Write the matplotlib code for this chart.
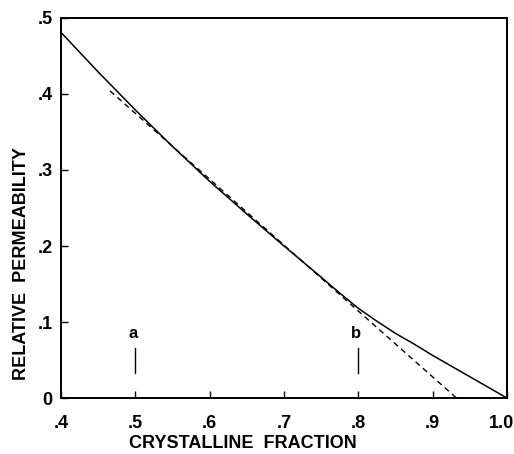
import numpy as np
import matplotlib
matplotlib.use("Agg")
import matplotlib.pyplot as plt
import matplotlib.transforms as mtransforms

# solid curve
frac = [0.40, 0.45, 0.50, 0.55, 0.60, 0.65, 0.70, 0.75, 0.775, 0.80, 0.825, 0.85, 0.875, 0.90, 0.95, 1.00]
perm = [0.481, 0.429, 0.379, 0.331, 0.285, 0.242, 0.200, 0.159, 0.138, 0.118, 0.101, 0.085, 0.071, 0.056, 0.028, 0.0]

# dashed straight line
dash_x = [0.466, 0.932]
dash_y = [0.404, 0.0]

# marked points a and b
mark_x = [0.5, 0.8]
mark_lbl = ['a', 'b']

xticks = [0.4, 0.5, 0.6, 0.7, 0.8, 0.9, 1.0]
xticklabels = ['.4', '.5', '.6', '.7', '.8', '.9', '1.0']
yticks = [0.0, 0.1, 0.2, 0.3, 0.4, 0.5]
yticklabels = ['0', '.1', '.2', '.3', '.4', '.5']

plt.rcParams['font.family'] = ['Liberation Sans', 'DejaVu Sans']
plt.rcParams['font.weight'] = 'bold'

fig = plt.figure(figsize=(5.14, 4.54), dpi=100)
ax = fig.add_axes([0.1187, 0.1233, 0.8677, 0.8371])

ax.plot(frac, perm, color='black', lw=1.1)
ax.plot(dash_x, dash_y, color='black', lw=1.0, linestyle=(0, (4, 3)))

for x, lbl in zip(mark_x, mark_lbl):
    ax.plot([x, x], [0.033, 0.066], color='black', lw=1.0)
    ax.text(x - 0.003, 0.085, lbl, ha='center', va='center', fontsize=12, fontweight='bold')

ax.set_xlim(0.4, 1.0)
ax.set_ylim(0.0, 0.5)
ax.set_xticks(xticks)
ax.set_xticklabels(xticklabels)
ax.set_yticks(yticks)
ax.set_yticklabels(yticklabels)
ax.tick_params(direction='in', length=5, width=1.0, labelsize=13)
ax.tick_params(axis='x', pad=12)
ax.tick_params(axis='y', pad=6)

# last x label sits at the figure edge, nudge it in a bit
last = ax.get_xticklabels()[-1]
last.set_transform(last.get_transform() + mtransforms.ScaledTranslation(-6 / 100, 0, fig.dpi_scale_trans))

for sp in ax.spines.values():
    sp.set_linewidth(1.4)

ax.set_xlabel('CRYSTALLINE  FRACTION', fontsize=13, fontweight='bold')
ax.set_ylabel('RELATIVE  PERMEABILITY', fontsize=13, fontweight='bold')
ax.xaxis.set_label_coords(0.408, -0.098)
ax.yaxis.set_label_coords(-0.07, 0.355)

fig.savefig('out.png', dpi=100)
